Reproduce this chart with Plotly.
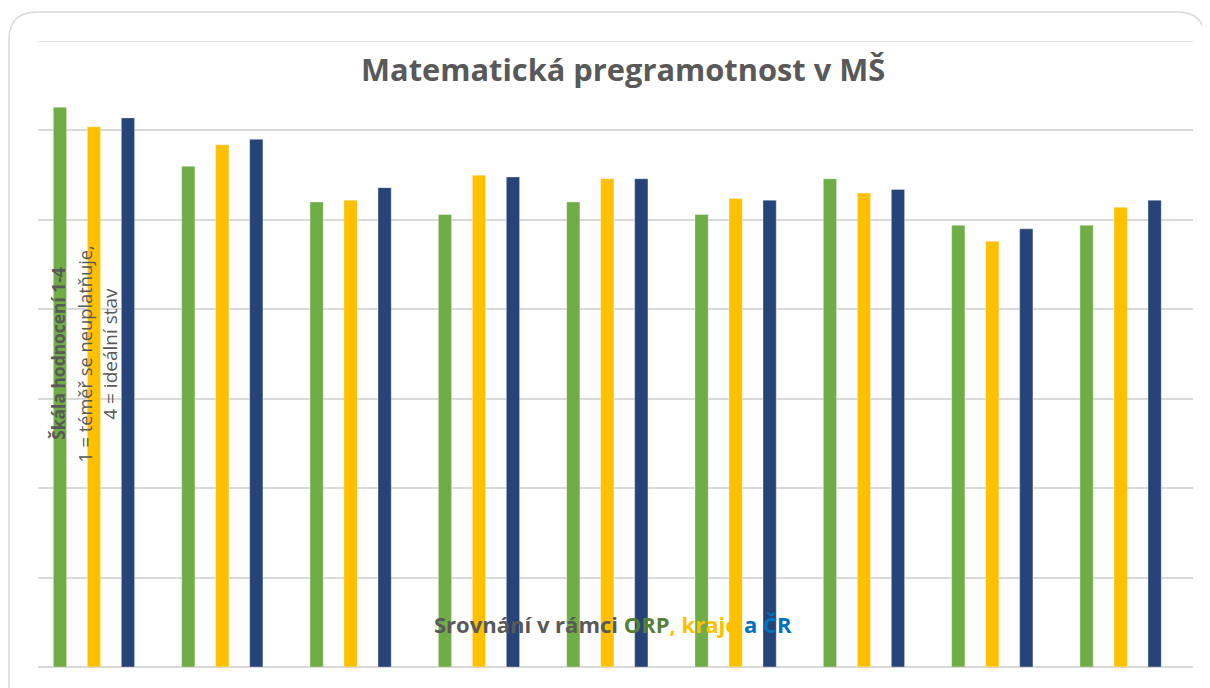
import plotly.graph_objects as go

# ---- data ----
categories = ["1", "2", "3", "4", "5", "6", "7", "8", "9"]
orp_values = [3.13, 2.80, 2.60, 2.53, 2.60, 2.53, 2.73, 2.47, 2.47]
kraj_values = [3.02, 2.92, 2.61, 2.75, 2.73, 2.62, 2.65, 2.38, 2.57]
cr_values = [3.07, 2.95, 2.68, 2.74, 2.73, 2.61, 2.67, 2.45, 2.61]
series_names = ["ORP", "kraj", "ČR"]
series_colors = ["#70AD47", "#FFC000", "#264478"]

title_text = "Matematická pregramotnost v MŠ"
y_title_bold = "Škála hodnocení 1-4"
y_title_line2 = "1 = téměř se neuplatňuje,"
y_title_line3 = "4 = ideální stav"
y_max = 3.5

OFF = 8  # page body margin
W, H = 1210 - OFF, 688 - OFF
# plot area in window pixels: x 38..1193, y 41..667.5
ML, MT = 38 - OFF, 41 - OFF
MR = W - (1193 - OFF)
MB = H - (667.5 - OFF)
PW, PH = W - ML - MR, H - MT - MB


def px(x):
    return (x - OFF - ML) / PW


def py(y):
    return (H - MB - (y - OFF)) / PH


fig = go.Figure()
for name, vals, col in zip(series_names, [orp_values, kraj_values, cr_values], series_colors):
    fig.add_trace(go.Bar(
        x=categories, y=vals, name=name,
        marker=dict(color=col, line=dict(color="rgba(255,255,255,0.35)", width=1)),
        hoverinfo="y+name",
    ))

font_family = "Open Sans, DejaVu Sans, sans-serif"

annotations = [
    dict(text="<b>" + title_text + "</b>", xref="paper", yref="paper",
         x=px(623), y=py(69), xanchor="center", yanchor="middle", showarrow=False,
         font=dict(family=font_family, size=30.8, color="#595959")),
    dict(text="<b>" + y_title_bold + "</b>", xref="paper", yref="paper",
         x=px(58), y=py(354), xanchor="center", yanchor="middle", showarrow=False,
         textangle=-90, font=dict(family=font_family, size=17.4, color="#595959")),
    dict(text=y_title_line2, xref="paper", yref="paper",
         x=px(85), y=py(354), xanchor="center", yanchor="middle", showarrow=False,
         textangle=-90, font=dict(family=font_family, size=18.3, color="#595959")),
    dict(text=y_title_line3, xref="paper", yref="paper",
         x=px(110), y=py(354), xanchor="center", yanchor="middle", showarrow=False,
         textangle=-90, font=dict(family=font_family, size=19, color="#595959")),
    dict(text="<b>Srovnání v rámci <span style='color:#548235'>ORP</span>"
              "<span style='color:#FFC000'>, kraje</span>"
              "<span style='color:#0070C0'> a ČR</span></b>",
         xref="paper", yref="paper", x=px(613), y=py(624),
         xanchor="center", yanchor="middle", showarrow=False,
         font=dict(family=font_family, size=22, color="#595959")),
]

# rounded outer chart border (window pixel coords)
x0, x1, y0, y1, r = 9, 1205, 12, 720, 28
path = (f"M {px(x0)},{py(y1)} L {px(x0)},{py(y0 + r)} "
        f"Q {px(x0)},{py(y0)} {px(x0 + r)},{py(y0)} "
        f"L {px(x1 - r)},{py(y0)} Q {px(x1)},{py(y0)} {px(x1)},{py(y0 + r)} "
        f"L {px(x1)},{py(y1)}")
shapes = [
    dict(type="path", xref="paper", yref="paper", path=path,
         line=dict(color="#d9d9d9", width=1.5), layer="below"),
    # top gridline at the axis maximum
    dict(type="line", xref="paper", yref="y", x0=0, x1=1, y0=y_max, y1=y_max,
         line=dict(color="#d9d9d9", width=1.5), layer="below"),
]

fig.update_layout(
    width=W, height=H,
    margin=dict(l=ML, r=MR, t=MT, b=MB, pad=0),
    paper_bgcolor="white", plot_bgcolor="white",
    barmode="group", bargap=0.205, bargroupgap=0.61,
    showlegend=False,
    annotations=annotations,
    shapes=shapes,
    xaxis=dict(type="category", range=[-0.436, 8.564], showticklabels=False,
               showgrid=False, zeroline=False, showline=False, ticks=""),
    yaxis=dict(range=[0, y_max], dtick=0.5, tick0=0, showticklabels=False,
               showgrid=True, gridcolor="#d9d9d9", gridwidth=1.5,
               zeroline=True, zerolinecolor="#d9d9d9", zerolinewidth=1.5,
               showline=False, ticks=""),
)

fig.write_html("out.html")
